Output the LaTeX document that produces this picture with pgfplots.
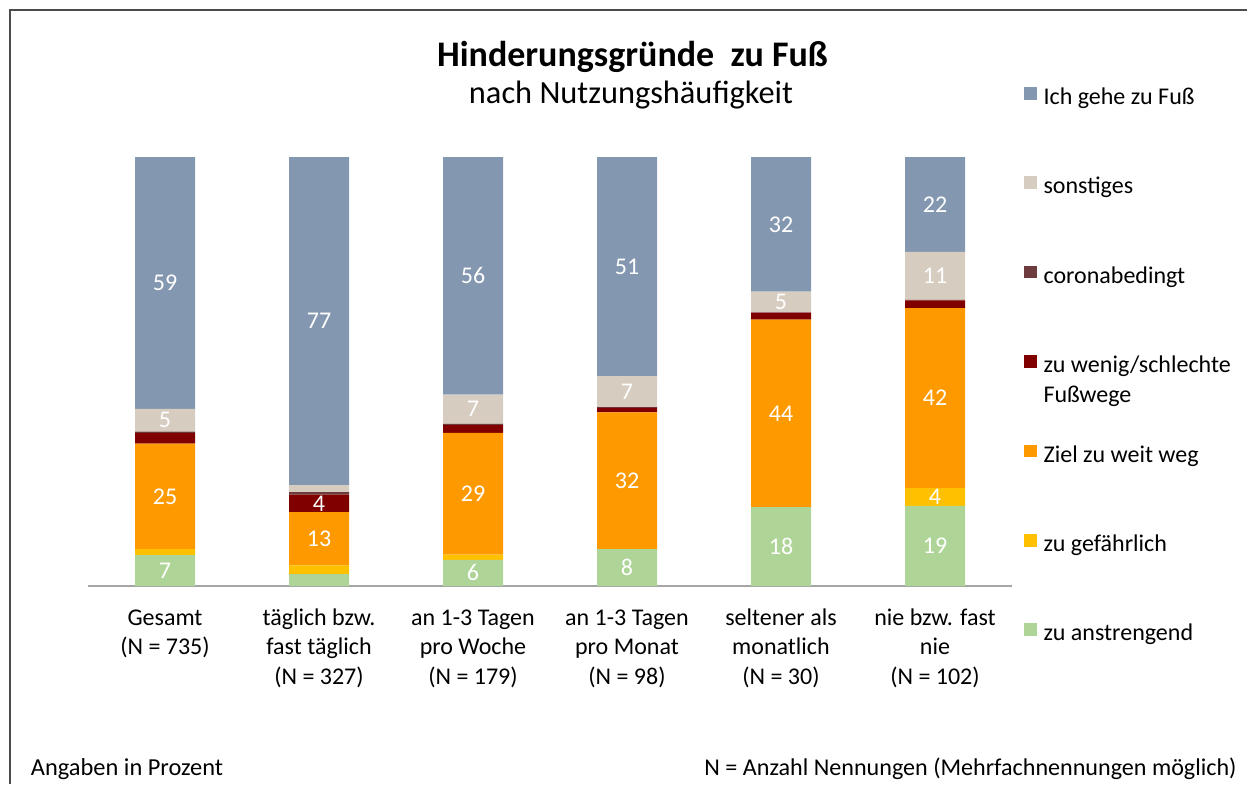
\documentclass[border=0pt]{standalone}
\usepackage{fontspec}
\setmainfont{Carlito}
\usepackage{pgfplots}
\pgfplotsset{compat=1.18}
\definecolor{cWalk}{HTML}{8497B0}
\definecolor{cSonst}{HTML}{D7CCC0}
\definecolor{cCorona}{HTML}{6E3C3C}
\definecolor{cWenig}{HTML}{800000}
\definecolor{cZiel}{HTML}{FF9900}
\definecolor{cGef}{HTML}{FFC000}
\definecolor{cAnstr}{HTML}{AED597}
\begin{document}
\begin{tikzpicture}
\path[use as bounding box] (0,0) rectangle (623.5pt,-392pt);
\draw[black!70, line width=0.7pt] (5pt,-392pt) -- (5pt,-5pt) -- (623.5pt,-5pt);
\node[anchor=base] at (316.25pt,-33.3pt) {\bfseries\fontsize{18}{22}\selectfont Hinderungsgründe\ \ zu Fuß};
\node[anchor=base] at (315.5pt,-51.8pt) {\fontsize{16.2}{19}\selectfont nach Nutzungshäufigkeit};
\node[anchor=base west, inner sep=0pt] at (15.3pt,-387.5pt) {\fontsize{12.2}{14}\selectfont Angaben in Prozent};
\node[anchor=base east, inner sep=0pt] at (618.5pt,-387.5pt) {\fontsize{12.05}{14}\selectfont N = Anzahl Nennungen (Mehrfachnennungen möglich)};
\begin{axis}[
  at={(44pt,-293pt)}, anchor=south west,
  scale only axis, width=462pt, height=214.5pt,
  xmin=-0.5, xmax=5.5, ymin=0, ymax=100,
  ybar stacked, bar width=30pt,
  axis x line*=bottom, axis y line=none,
  x axis line style={draw=black!35, line width=0.8pt, -},
  xtick={0,1,2,3,4,5},
  xticklabels={{\strut Gesamt\\(N = 735)},{\strut täglich bzw.\\fast täglich\\(N = 327)},{\strut an 1-3 Tagen\\pro Woche\\(N = 179)},{\strut an 1-3 Tagen\\pro Monat\\(N = 98)},{\strut seltener als\\monatlich\\(N = 30)},{\strut nie bzw. fast\\nie\\(N = 102)}},
  major tick length=0pt,
  xticklabel style={align=center, anchor=north, inner sep=0pt, yshift=-9.2pt, font=\fontsize{12}{14.75}\selectfont},
  point meta=explicit,
  nodes near coords={\pgfmathfloattofixed{\pgfplotspointmeta}\pgfmathtruncatemacro\lab{\pgfmathresult}\ifnum\lab>0 \lab\fi},
  every node near coord/.append style={anchor=center, font=\fontsize{12}{14}\selectfont, text=white, inner sep=0pt},
  legend style={draw=none, fill=none, inner sep=0pt, outer sep=0pt, at={(1.01299,1.1632)}, anchor=north west, row sep=33.45pt, nodes={inner sep=0pt, text height=8pt, text depth=2.5pt, font=\fontsize{12}{14.75}\selectfont}},
  legend cell align=left,
  reverse legend,
  legend image code/.code={\fill[#1] (0pt,-0.3pt) rectangle (6.3pt,6pt); \path (9.8pt,0pt);},
  clip=false,
]
\addplot[fill=cAnstr, draw=none] coordinates {(0,7.2)[7] (1,2.8)[0] (2,6.1)[6] (3,8.6)[8] (4,18.4)[18] (5,18.7)[19]};
\addlegendentry{zu anstrengend}
\addplot[fill=cGef, draw=none] coordinates {(0,1.4)[0] (1,2.0)[0] (2,1.2)[0] (3,0)[0] (4,0)[0] (5,4.1)[4]};
\addlegendentry{zu gefährlich}
\addplot[fill=cZiel, draw=none] coordinates {(0,24.6)[25] (1,12.4)[13] (2,28.4)[29] (3,31.9)[32] (4,43.7)[44] (5,42.0)[42]};
\addlegendentry{Ziel zu weit weg}
\addplot[fill=cWenig, draw=none] coordinates {(0,2.5)[0] (1,4.1)[4] (2,1.8)[0] (3,1.0)[0] (4,1.6)[0] (5,1.8)[0]};
\addlegendentry{\begin{tabular}[t]{@{}l@{}}zu wenig/schlechte\\Fußwege\end{tabular}}
\addplot[fill=cCorona, draw=none] coordinates {(0,0.3)[0] (1,0.6)[0] (2,0.3)[0] (3,0.2)[0] (4,0.1)[0] (5,0.1)[0]};
\addlegendentry{coronabedingt}
\addplot[fill=cSonst, draw=none] coordinates {(0,5.3)[5] (1,1.6)[0] (2,6.8)[7] (3,7.2)[7] (4,4.8)[5] (5,11.2)[11]};
\addlegendentry{sonstiges}
\addplot[fill=cWalk, draw=none] coordinates {(0,58.7)[59] (1,76.5)[77] (2,55.4)[56] (3,51.1)[51] (4,31.4)[32] (5,22.1)[22]};
\addlegendentry{Ich gehe zu Fuß}
\end{axis}
\end{tikzpicture}
\end{document}
